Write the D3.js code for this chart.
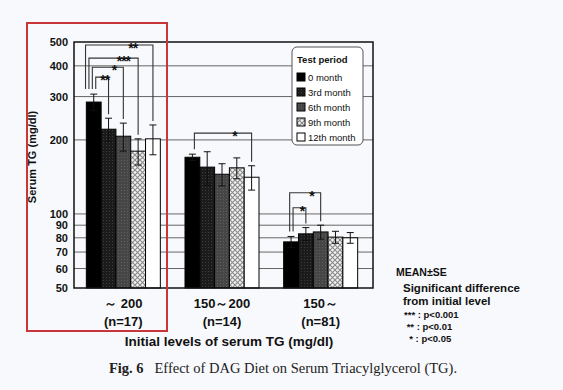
<!DOCTYPE html>
<html>
<head>
<meta charset="utf-8">
<script src="https://cdn.jsdelivr.net/npm/d3@7"></script>
<style>
  body { margin: 0; background: #f8f9fc; }
  svg { display: block; }
  .lab { font-family: "Liberation Sans", Arial, sans-serif; font-weight: bold; fill: #111; }
</style>
</head>
<body>
<div id="plot"></div>
<script>
// data
let groups = ["～ 200", "150～200", "150～"];
let groupN = ["(n=17)", "(n=14)", "(n=81)"];
let periods = ["0 month", "3rd month", "6th month", "9th month", "12th month"];
let means = [
  [285, 221, 207, 180, 202],
  [170, 155, 145, 154, 141],
  [77, 83, 84.5, 80.5, 80]
];
let ses = [
  [22, 24, 27, 22, 28],
  [5, 24, 15, 15, 16],
  [4, 5, 5.5, 4.5, 4]
];
let yTicks = [50, 60, 70, 80, 90, 100, 200, 300, 400, 500];
// significance brackets: from the 0 month bar of group g to bar "to"
let brackets = [
  { g: 0, to: 4, level: 486, label: "**" },
  { g: 0, to: 3, level: 430, label: "***" },
  { g: 0, to: 2, level: 395, label: "*" },
  { g: 0, to: 1, level: 360, label: "**" },
  { g: 1, to: 4, level: 213, label: "*" },
  { g: 2, to: 2, level: 122, label: "*" },
  { g: 2, to: 1, level: 106, label: "*" }
];
let notes = ["*** : p<0.001", " ** : p<0.01", "  * : p<0.05"];

let svgWidth = 563, svgHeight = 390;
let plot = { left: 74, right: 373, top: 42, bottom: 288 };

let svg = d3.select('#plot').append('svg')
  .attr('width', svgWidth).attr('height', svgHeight);

// patterns for the bar fills
let defs = svg.append('defs');
let p3 = defs.append('pattern').attr('id', 'p3rd').attr('patternUnits', 'userSpaceOnUse')
  .attr('width', 3).attr('height', 3);
p3.append('rect').attr('width', 3).attr('height', 3).attr('fill', '#1b1b1b');
p3.append('rect').attr('x', 1).attr('y', 1).attr('width', 1).attr('height', 1).attr('fill', '#3c3c3c');
let p6 = defs.append('pattern').attr('id', 'p6th').attr('patternUnits', 'userSpaceOnUse')
  .attr('width', 3).attr('height', 3);
p6.append('rect').attr('width', 3).attr('height', 3).attr('fill', '#464646');
p6.append('rect').attr('x', 1).attr('y', 1).attr('width', 1).attr('height', 1).attr('fill', '#5e5e5e');
let p9 = defs.append('pattern').attr('id', 'p9th').attr('patternUnits', 'userSpaceOnUse')
  .attr('width', 5).attr('height', 5);
p9.append('rect').attr('width', 5).attr('height', 5).attr('fill', '#f2f2f2');
p9.append('path').attr('d', 'M0,0L5,5M5,0L0,5').attr('stroke', '#8a8a8a').attr('stroke-width', 1.1);
let fills = ['#000', 'url(#p3rd)', 'url(#p6th)', 'url(#p9th)', '#fff'];

let y = d3.scaleLog().domain([50, 500]).range([plot.bottom, plot.top]);
let x = d3.scaleBand().domain(groups).range([plot.left, plot.right - 3])
  .paddingInner(0.25).paddingOuter(0.125);
let xs = d3.scaleBand().domain(periods).range([0, x.bandwidth()]);

// gridlines
svg.append('g').selectAll('line')
  .data(yTicks.filter(d => d > 50 && d < 500))
  .enter().append('line')
  .attr('x1', plot.left).attr('x2', plot.right)
  .attr('y1', d => y(d)).attr('y2', d => y(d))
  .attr('stroke', '#666').attr('stroke-width', 1);

// y axis labels
let yAxis = d3.axisLeft(y).tickValues(yTicks).tickFormat(d3.format('d')).tickSize(0).tickPadding(6);
let ya = svg.append('g').attr('transform', `translate(${plot.left},0)`).call(yAxis);
ya.select('.domain').remove();
ya.selectAll('text').attr('class', 'lab').style('font-size', '11px')
  .attr('font-family', null).attr('fill', null);

// bars
let rows = [];
groups.forEach((g, gi) => periods.forEach((p, pi) => {
  rows.push({ g: g, gi: gi, p: p, pi: pi, m: means[gi][pi], se: ses[gi][pi] });
}));
let cx = d => x(d.g) + xs(d.p) + xs.bandwidth() / 2;

svg.append('g').selectAll('rect')
  .data(rows).enter().append('rect')
  .attr('x', d => x(d.g) + xs(d.p))
  .attr('y', d => y(d.m))
  .attr('width', xs.bandwidth())
  .attr('height', d => plot.bottom - y(d.m))
  .attr('fill', d => fills[d.pi])
  .attr('stroke', '#000').attr('stroke-width', 1);

// error bars
let eb = svg.append('g').attr('stroke', '#111').attr('stroke-width', 1);
rows.forEach(d => {
  let c = cx(d);
  eb.append('line').attr('x1', c).attr('x2', c).attr('y1', y(d.m - d.se)).attr('y2', y(d.m + d.se));
  [d.m - d.se, d.m + d.se].forEach(v => {
    eb.append('line').attr('x1', c - 3.5).attr('x2', c + 3.5).attr('y1', y(v)).attr('y2', y(v));
  });
});

// significance brackets
let br = svg.append('g');
brackets.forEach(b => {
  let rank = brackets.filter(o => o.g === b.g && o.level < b.level).length;
  let r0 = rows.find(r => r.gi === b.g && r.pi === 0);
  let r1 = rows.find(r => r.gi === b.g && r.pi === b.to);
  let xl = cx(r0) + 2 - 3.4 * rank;
  let xr = cx(r1);
  let yt = y(b.level);
  let yl = y(r0.m + r0.se) - 5;
  let yr = y(r1.m + r1.se) - 4;
  br.append('path')
    .attr('d', `M${xl},${yl}V${yt}H${xr}V${yr}`)
    .attr('fill', 'none').attr('stroke', '#333').attr('stroke-width', 1.1);
  br.append('text').attr('class', 'lab')
    .attr('x', xl + (xr - xl) * 0.7).attr('y', yt + 8)
    .attr('text-anchor', 'middle').style('font-size', '14px')
    .style('letter-spacing', '-1px')
    .text(b.label);
});

// frame
svg.append('rect')
  .attr('x', plot.left).attr('y', plot.top)
  .attr('width', plot.right - plot.left).attr('height', plot.bottom - plot.top)
  .attr('fill', 'none').attr('stroke', '#111').attr('stroke-width', 1.5);

// legend
let lg = svg.append('g').attr('transform', 'translate(292,47)');
lg.append('rect').attr('width', 71).attr('height', 98).attr('rx', 5)
  .attr('fill', '#fff').attr('stroke', '#555').attr('stroke-width', 1);
lg.append('text').attr('class', 'lab').attr('x', 5).attr('y', 16)
  .style('font-size', '9.5px').text('Test period');
let li = lg.selectAll('g.item').data(periods).enter().append('g')
  .attr('transform', (d, i) => `translate(5,${26 + i * 15})`);
li.append('rect').attr('width', 8).attr('height', 8)
  .attr('fill', (d, i) => fills[i]).attr('stroke', '#000').attr('stroke-width', 1);
li.append('text').attr('class', 'lab').attr('x', 11).attr('y', 7.5)
  .style('font-size', '9.5px').style('font-weight', 'normal').text(d => d);

// x labels
let xl = svg.append('g');
groups.forEach((g, i) => {
  let c = x(g) + x.bandwidth() / 2;
  xl.append('text').attr('class', 'lab').attr('x', c).attr('y', 308)
    .attr('text-anchor', 'middle').style('font-size', '13px').text(g);
  xl.append('text').attr('class', 'lab').attr('x', c).attr('y', 326)
    .attr('text-anchor', 'middle').style('font-size', '13px').text(groupN[i]);
});
svg.append('text').attr('class', 'lab').attr('x', 229).attr('y', 346)
  .attr('text-anchor', 'middle').style('font-size', '13.5px')
  .text('Initial levels of serum TG (mg/dl)');

// y title
svg.append('text').attr('class', 'lab')
  .attr('transform', 'translate(36,157) rotate(-90)')
  .attr('text-anchor', 'middle').style('font-size', '11px')
  .text('Serum TG (mg/dl)');

// notes
let nt = svg.append('g');
nt.append('text').attr('class', 'lab').attr('x', 396).attr('y', 276)
  .style('font-size', '10.5px').text('MEAN±SE');
nt.append('text').attr('class', 'lab').attr('x', 403).attr('y', 292)
  .style('font-size', '11.5px').text('Significant difference');
nt.append('text').attr('class', 'lab').attr('x', 403).attr('y', 305)
  .style('font-size', '11.5px').text('from initial level');
nt.selectAll('text.p').data(notes).enter().append('text')
  .attr('class', 'lab p').attr('x', 404).attr('y', (d, i) => 318 + i * 12)
  .style('font-size', '9.5px').style('white-space', 'pre').text(d => d);

// caption
let cap = svg.append('text').attr('x', 283).attr('y', 373).attr('text-anchor', 'middle')
  .style('font-family', '"Liberation Serif", "Times New Roman", serif')
  .style('font-size', '14.5px').attr('fill', '#222');
cap.append('tspan').style('font-weight', 'bold').text('Fig. 6');
cap.append('tspan').text('\u00a0\u00a0 Effect of DAG Diet on Serum Triacylglycerol (TG).');

// red highlight box
svg.append('rect').attr('x', 27).attr('y', 23).attr('width', 140).attr('height', 308)
  .attr('fill', 'none').attr('stroke', '#c8363a').attr('stroke-width', 2);
</script>
</body>
</html>
